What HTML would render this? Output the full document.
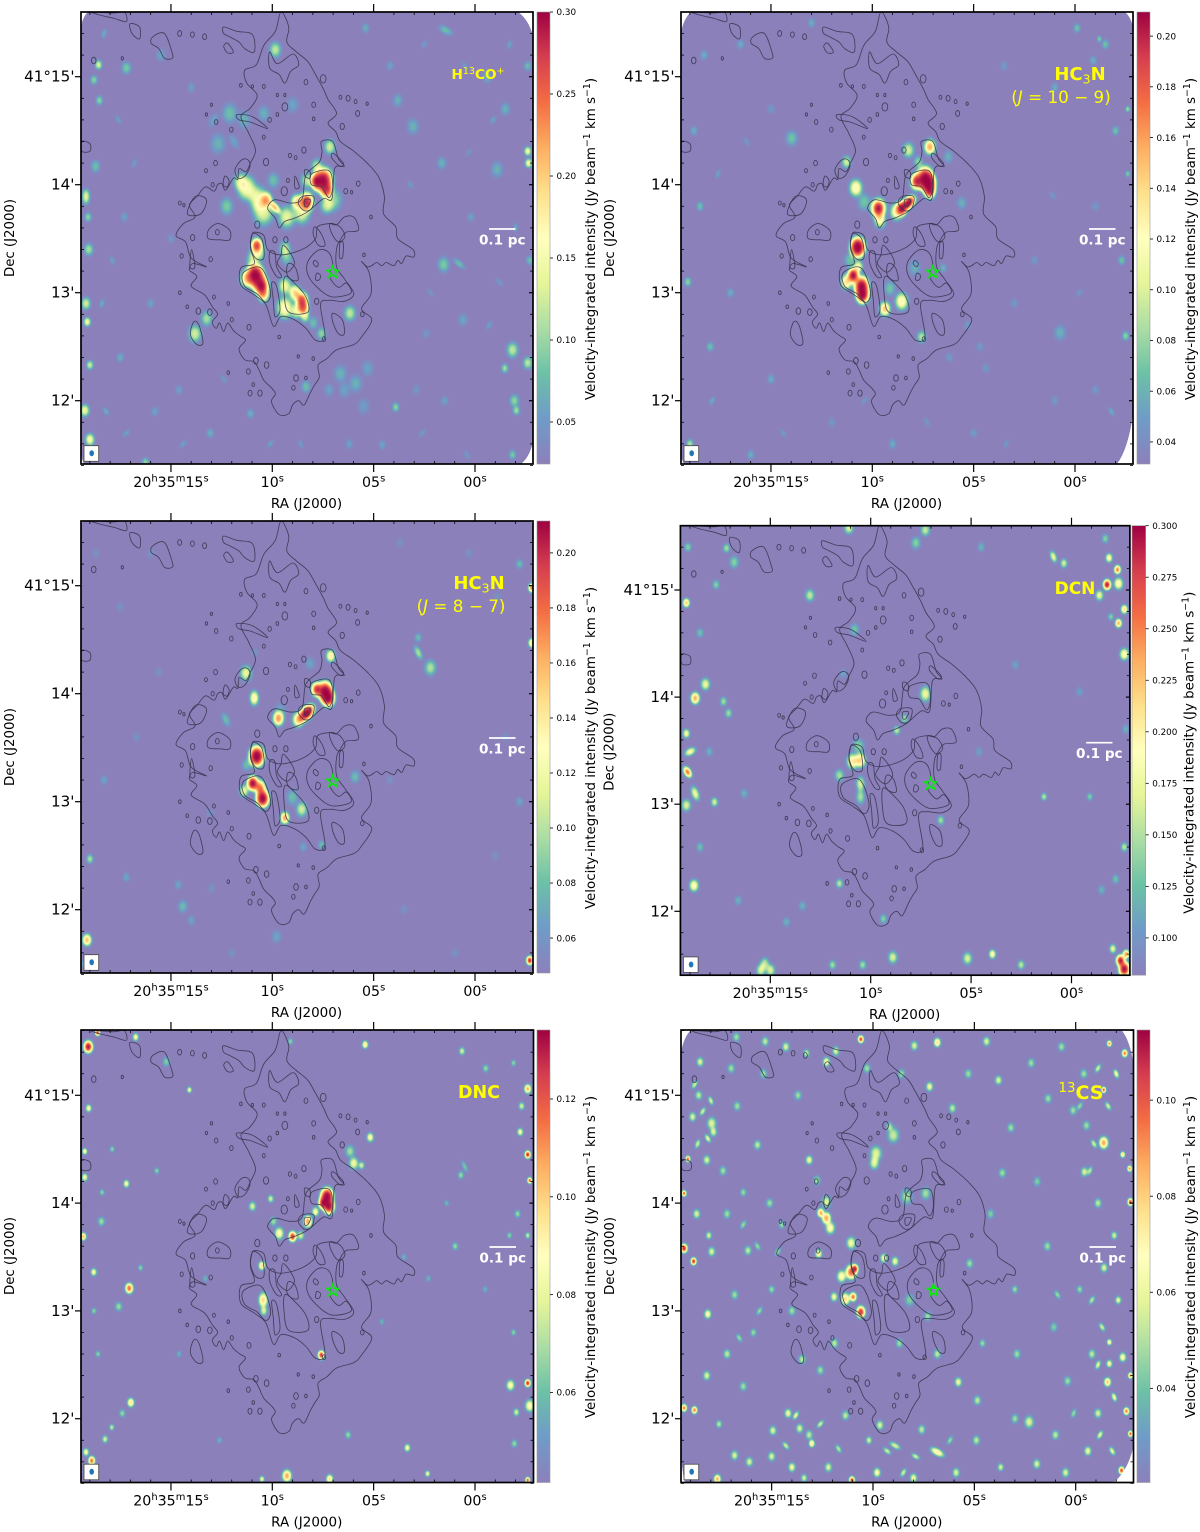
<!DOCTYPE html>
<html lang="en">
<head>
<meta charset="utf-8">
<title>Velocity-integrated intensity maps</title>
<style>
html,body{margin:0;padding:0;background:#fff}
svg{display:block}
text{font-family:"DejaVu Sans","Liberation Sans",sans-serif;fill:#000}
</style>
</head>
<body>
<svg id="figure" xmlns="http://www.w3.org/2000/svg" width="1200" height="1532" viewBox="0 0 1200 1532"><defs id="defs"><radialGradient id="gaussian-profile"><stop offset="0" stop-color="#fff" stop-opacity="1"/><stop offset="0.3" stop-color="#fff" stop-opacity="0.88"/><stop offset="0.55" stop-color="#fff" stop-opacity="0.5"/><stop offset="0.8" stop-color="#fff" stop-opacity="0.13"/><stop offset="1" stop-color="#fff" stop-opacity="0"/></radialGradient></defs></svg>
<script>
// ---- chart data: sky coordinates (RA seconds after 20h35m, Dec arcmin after 41 deg) ----
const colormapStops = ["#8c80bb","#6f9bc8","#6cc1a6","#abdda4","#e6f598","#ffffbf","#fee08b","#fdae61","#f46d43","#d53e4f","#9e0142"];
const raMajorTicks = [15, 10, 5, 0];
const raTickLabels = ["20h35m15s", "10s", "05s", "00s"];
const decMajorTicks = [15, 14, 13, 12];
const decTickLabels = ["41°15'", "14'", "13'", "12'"];

const h13coCbarTicks = [0.05, 0.10, 0.15, 0.20, 0.25, 0.30];
const hc3n109CbarTicks = [0.04, 0.06, 0.08, 0.10, 0.12, 0.14, 0.16, 0.18, 0.20];
const hc3n87CbarTicks = [0.06, 0.08, 0.10, 0.12, 0.14, 0.16, 0.18, 0.20];
const dcnCbarTicks = [0.100, 0.125, 0.150, 0.175, 0.200, 0.225, 0.250, 0.275, 0.300];
const dncCbarTicks = [0.06, 0.08, 0.10, 0.12];
const cs13CbarTicks = [0.04, 0.06, 0.08, 0.10];

// source lists: [ra, dec, intensity, radius arcsec, axis ratio, position angle]
const h13coSources = [
[7.48,14.04,.42,10],[7.32,13.95,.26,7],[7.81,14.03,.3,7],[8.31,13.84,.29,8],[8.8,13.84,.19,5],[10.28,13.86,.2,5],[9.87,13.79,.21,6,.5,-40],
[11.27,13.97,.16,10],[10.69,13.87,.15,10],[10.44,13.75,.14,11],[9.29,13.70,.14,9],[8.55,13.74,.14,9],[6.99,13.86,.1,9],[7.32,13.81,.12,7],
[12.25,13.8,.09,7],[11.6,14.03,.12,7],[9.95,14.04,.08,5],[7.16,14.35,.13,6],[7.81,14.17,.12,6],[8.3,14.04,.12,5],
[10.77,13.44,.26,6],[10.74,13.38,.16,8],[11.02,13.30,.1,6],[10.86,13.17,.4,9],[11.27,13.13,.2,7],[10.53,13.06,.33,8],[10.74,13.12,.25,9],[10.44,12.98,.2,6],
[8.55,12.93,.27,7],[8.47,12.86,.25,5],[8.88,13.0,.2,5],[9.38,13.06,.15,7],[9.38,12.86,.17,9],[8.8,12.83,.15,6],[8.39,12.78,.13,4],[9.38,13.41,.12,6],[9.29,13.33,.09,5],
[6.17,12.81,.12,5],[7.98,12.72,.08,4],[7.57,12.62,.1,4],[13.82,12.62,.13,7],[13.24,12.76,.11,6],
[9.85,15.25,.12,5],[12.1,14.66,.08,8],[12.68,14.38,.07,8],[11.4,14.6,.07,7],[10.42,14.66,.07,6],[9.0,14.74,.06,5],[12.9,14.6,.06,5,.5,30],[11.9,14.4,.06,5,.5,-30],
[6.64,12.25,.07,7],[5.89,12.16,.07,7],[6.45,12.1,.06,6],[3.91,11.94,.1,3],[8.34,12.13,.08,4],[5.3,12.3,.06,5],[7.2,12.1,.06,4],[5.5,11.95,.055,5],
[19.13,12.73,.16,3],[19.19,13.89,.14,5,.5,0],[19.0,12.33,.13,3],[19.25,11.91,.15,4],[19.0,11.64,.16,4],[18.57,15.11,.14,3],[18.53,14.78,.1,3],[17.2,15.08,.09,4],
[19.06,13.4,.11,4],[18.72,14.17,.08,4],[19.09,13.7,.1,3],[19.19,12.9,.13,4],[18.8,14.97,.1,3],
[1.45,15.43,.08,5,.5,-60],[-2.6,14.31,.16,3],[-2.64,14.2,.16,3],[-1.85,12.47,.12,5],[-2.6,12.35,.12,4],[-1.47,12.3,.11,3],[-1.94,12.0,.1,4],[-2.04,11.91,.11,3],
[1.55,13.26,.09,5],[.79,13.27,.08,6,.4,-50],[-1.09,14.14,.07,5],[1.64,14.2,.07,4],[3.06,14.54,.07,5],[3.81,14.78,.07,4],[-1.85,11.5,.09,3],
[16.26,11.43,.1,3],[13.06,11.7,.07,3],[11.08,11.88,.07,3],[4.57,11.59,.06,3],[.6,12.75,.06,4],[2.4,12.62,.05,3],
[15.5,15.2,.06,4],[14,14.9,.06,3],[5.4,15.45,.07,3],[4.2,15.1,.06,3],[-.6,15.0,.07,4],[-1.5,14.7,.07,4],[-2.6,15.1,.08,3],[.2,13.7,.06,3],[-2.7,13.3,.08,3],
[17.5,12.4,.07,3],[16,12.9,.06,3],[15,13.5,.05,3],[17.3,13.7,.06,3],[6.2,11.6,.06,3],[1.5,12.0,.06,3],[2.9,12.1,.05,3],[14.6,12.1,.06,3],[15.8,11.9,.06,3],
[18.3,15.4,.07,3,.5,20],[17.6,14.6,.06,3,.5,-30],[16.8,14.2,.055,3,.5,20],[17.9,13.3,.06,3,.5,-20],[18.4,12.9,.07,3,.5,20],[17.2,11.7,.06,3,.5,40],[18.2,11.9,.07,3,.5,-30],[14.4,11.6,.06,3,.5,40],[12.4,12.2,.055,3,.5,-40],[10.1,11.6,.06,3,.5,40],[8.6,11.6,.055,3,.5,-30],[2.6,11.7,.055,3,.5,40],[.4,11.5,.055,3,.5,-30],[-.7,12.7,.06,3,.5,30],[-1.2,13.1,.055,3,.5,-40],[-2.0,13.6,.07,3,.5,0],[-.9,14.6,.06,3,.5,30],[.5,15.1,.055,3,.5,-40],[2.5,15.3,.055,3,.5,30],[3.2,14.0,.055,3,.5,-30],[.3,14.3,.05,3,.5,40],[2.2,13.0,.05,3,.5,-40],[-1.7,15.3,.065,3,.5,20]
];
const hc3n109Sources = [
[7.4,14.06,.3,9],[7.24,14.01,.3,8],[7.81,14.03,.2,7],[7.16,13.94,.2,5],[8.22,13.83,.3,7,.6,40],[8.55,13.78,.26,6],[8.8,13.75,.13,7],
[9.7,13.78,.22,8],[9.62,13.67,.12,5],[10.81,13.97,.13,7],[11.27,14.21,.1,4],[7.16,14.35,.16,5],[8.22,14.32,.1,5],[7.73,14.21,.08,4],[5.59,13.83,.06,4],[6.25,14.26,.06,4],[13.98,14.43,.07,5],
[10.72,13.42,.36,8],[10.94,13.16,.28,6],[11.27,13.10,.14,5],[10.53,13.06,.3,8],[10.48,12.98,.3,7],[10.69,13.24,.12,4],[11.1,13.3,.07,5],
[9.38,12.85,.15,6],[8.55,12.92,.13,7],[9.13,13.04,.07,6],[7.57,12.59,.09,4],[7.9,13.23,.06,5],[6.5,13.23,.06,3],[10.4,13.84,.07,7],
[.74,12.63,.06,5],[16.5,15.3,.06,3],[15,14.7,.05,3],[13,15.5,.06,3],[3.5,15.1,.05,3],[1,14.9,.06,3],[-1.5,15.3,.07,3],[-2,14.5,.07,3],[-2.6,14.7,.09,2],[-1,13.8,.05,3],
[2,13.3,.05,3],[3,12.9,.05,3],[-2.5,12.6,.08,3],[-1,12.1,.05,3],[1,12,.05,3],[5,11.7,.05,3],[9,11.6,.06,3],[12,11.8,.05,3],[15,12.2,.06,3],[17,13,.06,3],
[18.5,13.8,.07,3],[18.8,14.5,.06,3],[18,12.5,.07,3],[19,11.6,.09,3],[16,11.5,.06,3],[-2.6,14.1,.08,2],[-2.3,13.3,.07,3],[19.1,13.1,.08,3],[18.3,15.2,.06,3],
[-.1,15.45,.07,3],[-.9,15.15,.06,3],[-1.2,15.35,.08,2],[4.4,12.3,.05,3],[6.2,12.4,.05,3],[5.3,12.7,.05,3],[4.7,12.5,.05,3],
[17.6,14.1,.055,3,.5,20],[16.2,14.4,.05,3,.5,-30],[17.9,12.0,.06,3,.5,30],[14.4,11.7,.05,3,.5,-30],[10.4,12.0,.05,3,.5,40],[7.3,11.8,.05,3,.5,-30],[3.4,11.6,.05,3,.5,30],[-1.8,11.9,.06,3,.5,-30],[-.2,13.0,.05,3,.5,30],[1.1,13.9,.05,3,.5,-30]
];
const hc3n87Sources = [
[7.4,14.02,.32,8],[7.24,13.96,.3,7],[7.81,14.04,.2,6],[8.31,13.82,.32,8,.6,40],[8.72,13.76,.15,5],[9.7,13.77,.17,6],[9.62,13.84,.07,5],
[10.89,13.96,.14,6,.6,0],[11.3,14.19,.12,5],[7.12,14.35,.14,4],[2.8,14.38,.1,6,.45,-25],[8.14,14.28,.07,4],[12.29,13.76,.08,6,.5,-25],[5.92,13.23,.08,4],
[10.77,13.42,.34,8],[11.27,13.34,.08,4],[10.97,13.17,.28,6],[11.4,13.1,.12,4],[10.48,13.03,.32,7],[10.61,13.13,.18,5],
[9.38,12.85,.17,4],[8.55,12.93,.11,6],[9.01,13.04,.08,5],[7.57,12.6,.08,3],[8.47,12.58,.07,3],[14.42,12.03,.08,4],[14.64,12.23,.07,3],[9.79,11.75,.07,4],[10.86,14.38,.06,3],[13.08,12.9,.06,3],
[19.14,11.72,.16,4],[19,12.47,.1,3],[-2.7,11.53,.21,3],[-2.2,15.2,.08,3],[-2.8,14.98,.18,3],[-2.8,14.47,.15,3],[2.2,14.24,.1,5],[2.8,14.52,.08,3],
[13,12.2,.06,3],[19.2,11.5,.1,3],[17.2,12.3,.07,3],[14,11.9,.07,3],[12,11.6,.06,3],[3.5,12,.06,3],[1,11.6,.06,3],[-1,12.5,.06,3],[-2.2,13,.07,3],[-1.5,13.6,.06,3],[-1.1,14.9,.06,3],[.3,15.3,.06,3],[3.7,15.4,.06,3],[16,15.3,.06,3],[17.5,14.8,.06,3],[18.7,15.3,.06,3],[15.6,14.2,.06,3],[16.7,13.6,.06,3],[18.3,13.2,.07,3],[4.2,13.2,.06,3]
];
const dcnSources = [
[10.51,13.41,.22,6],[10.9,13.4,.21,5],[10.61,13.54,.14,5],[10.51,13.19,.17,6,.6,0],[10.51,13.07,.15,6,.6,0],[11.56,13.27,.15,4],[7.28,14.03,.18,5,.7,0],[8.32,13.8,.15,3],[8.7,13.69,.16,3],[10.8,14.63,.13,4],[11.37,14.22,.11,3],[4.61,13.49,.11,3],
[-1.77,15.05,.32,3.5],[-2.29,15.19,.26,3],[-2.34,15.06,.2,4],[-1.39,14.95,.18,3.5],[-1.87,15.3,.2,3],[.9,15.31,.18,4,.5,-20],[.38,15.25,.17,3],[-2.63,14.82,.22,3],[-2.34,14.69,.24,3],[-1.96,14.75,.14,2.5],[-2.63,14.4,.2,4],[-1.68,15.48,.14,3],
[-2.63,11.46,.36,5],[-2.44,11.54,.3,4],[-2.06,11.65,.18,3],[-2.72,11.6,.25,3],
[18.74,13.99,.24,4],[18.23,14.12,.18,4],[19.12,13.3,.26,4,.6,-30],[18.99,13.49,.19,4,.6,60],[19.18,13.66,.19,3],[19.18,14.88,.23,3],[18.74,13.1,.18,5,.5,-20],[17.78,13.02,.17,3],[19.18,12.99,.17,4],[18.8,12.24,.2,4],[17.18,15.39,.15,3],[16.8,15.26,.14,4],[13.03,14.95,.16,4],[17.33,13.96,.15,3],[17.08,13.85,.15,3],[18.04,13.49,.12,3],
[15.47,11.45,.17,4],[14.99,11.45,.17,4],[15.28,11.51,.16,4],[8.9,11.57,.17,4],[5.18,11.56,.17,4],[3.94,11.6,.2,3],[2.51,11.5,.16,3],[11.09,15.58,.17,4],[7.28,15.56,.16,4],[7.75,15.44,.14,4],[1.37,13.07,.16,2.5],[-.91,13.07,.14,2.5],[6.51,12.85,.15,3],[-2.63,12.6,.16,3],[11.56,12.26,.16,3],[9.37,11.93,.14,3],
[18.5,14.6,.13,3],[17.7,15.05,.14,3],[19.1,15.4,.14,3],[18.5,12.6,.13,3],[16.3,13.1,.12,3],[13.4,12.05,.12,3],[14.2,11.9,.12,3],[11.9,11.5,.15,3],[10.4,11.5,.15,3],[-1.5,12.2,.12,3],[-.4,14.05,.11,3],[2.8,14.3,.11,3],[4.5,15.4,.12,3],[-2.7,13.7,.12,3],[-2.2,12.3,.13,3],[16.6,12.1,.12,3]
];
const dncSources = [
[7.3,14.06,.2,7],[7.21,13.97,.17,5],[7.49,14.0,.16,4],[7.87,13.92,.09,3],[8.25,13.83,.11,4],[9,13.69,.13,3.5],[9.66,13.72,.09,4],[9.94,13.83,.07,3],[8.6,13.7,.08,3],[10.51,13.42,.1,3],[10.45,13.1,.1,5,.6,0],[10.42,13.0,.08,3],[7.58,12.59,.13,3],[10.98,13.97,.08,3],[10.08,14.04,.08,2.5],
[17.06,13.21,.12,3.5],[17.58,13.04,.07,3],[18.81,13.36,.09,2.5],[18.43,13.83,.07,3],[17.2,14.18,.09,2.5],[19.08,15.45,.15,4],[18.62,15.58,.15,2],[16.74,15.54,.09,2.5],[19.06,14.88,.09,2.5],[5.42,15.47,.1,2.5],[.64,15.41,.08,2.5],
[-2.6,15.06,.11,3],[-2.6,14.45,.15,2.5],[-2.7,14.21,.13,2],[5.98,14.37,.085,4],[5.6,14.35,.08,2.5],[5.17,14.61,.09,3],[6.17,14.48,.07,4],[.51,14.34,.065,4,.35,-25],[.7,14.26,.07,2.5],[19.25,14.48,.1,2],[19.32,13.69,.11,2.5],[19.25,14.24,.09,2.5],
[16.98,12.15,.1,3],[18.91,11.61,.12,3],[19.19,11.69,.09,2.5],[9.28,11.47,.11,4],[7.17,11.44,.1,3],[3.34,11.73,.09,2.5],[2.34,11.49,.09,2],[-2.6,12.33,.14,2.5],[-1.75,12.31,.09,3.5],[-2.7,12.12,.09,4],[-2.04,12.06,.08,2.5],[-2.6,11.43,.13,2],[6.26,11.85,.07,2.5],[-1.94,11.77,.07,2.5],[-2.23,14.66,.09,2.5],[10.51,11.44,.09,2],[.98,13.6,.07,2.5],[-.53,15.25,.07,2.5],[14.09,15.05,.09,2],[15.23,15.31,.065,3],[17.92,11.92,.08,2],[18.25,11.81,.08,2.5],[17.4,12.05,.07,2.5],
[-2.1,13.9,.07,2.5],[-1.7,13.7,.07,2],[-2.6,13.7,.08,2],[-2.3,14.9,.08,2.5],[-1.9,15.3,.07,2],[15.7,14.3,.07,2],[17.9,14.5,.07,2],[18.4,14.1,.07,2],[18.8,13.0,.07,2],[16.5,13.4,.07,2],[14.6,12.6,.06,2],[12.6,11.8,.06,2],[4.6,12.9,.06,2],[3.5,13.5,.06,2],[2.3,13.3,.06,2],[1.4,14.0,.06,2],[-.5,13.2,.06,2],[-1.9,12.8,.07,2],[18.6,12.6,.07,2],[9.1,15.5,.07,2],[13.3,13.3,.06,2]
];
const cs13Sources = [
[11.08,13.36,.1,6],[10.89,13.39,.115,3],[11.55,13.32,.07,4],[10.98,13.13,.1,3],[11.36,13.11,.08,4],[11.92,13.13,.065,3],[10.6,12.99,.11,4],[12.3,13.86,.09,4],[12.58,13.91,.09,3],[12.11,13.77,.07,4],[12.3,14.01,.06,4],[8.34,14.06,.05,5],[7.4,14.09,.05,4],[9.85,14.46,.06,5],[9.94,14.37,.06,4],[9,14.63,.055,5],[9.19,14.71,.05,3],
[10.6,15.52,.11,2.5],[6.83,15.49,.08,3],[11.83,15.41,.06,3],[12.3,15.31,.07,3],[7.96,15.46,.06,3],[13.28,15.39,.06,2.5],[15.32,15.5,.055,3],[16.74,15.54,.05,3],[18.53,15.31,.06,3],[17.96,14.74,.06,4],[17.87,14.66,.06,3],[19.13,14.41,.11,2],[19.32,14.09,.11,2],[19.32,13.58,.115,3],[18.85,13.46,.115,2.5],[18.81,12.08,.1,2.5],[19.32,12.1,.1,2.5],[17.68,11.44,.09,3],[11.04,11.43,.11,2.5],[16.83,11.66,.06,3],[13.02,11.77,.08,2.5],[8.91,11.75,.06,4,.45,-60],[6.83,11.69,.075,5,.45,-60],[1.92,11.58,.06,3],[-2.26,11.52,.11,2.5],[-2.7,11.86,.11,2],[-1.57,12.34,.085,3],[-2.5,12.07,.1,2.5],[-2.7,12.4,.1,2],[-2.32,12.57,.07,3],[-1.66,12.71,.08,2],[-1.66,12.51,.07,2.5],[-1.38,14.56,.09,4],[-2.7,14.01,.11,2.5],[-2.66,14.32,.1,2],[-2.32,14.45,.085,2],[-2.42,15.39,.1,2.5],[-1.38,15.05,.11,2],[-.53,14.72,.05,3],[-1.66,15.48,.1,2],[-.43,14.29,.06,3],
[2.3,11.97,.06,4],[14.19,12.05,.065,3],[13.62,11.91,.06,3],[14.94,11.89,.06,3],[13.15,11.85,.055,3],[11.36,12.03,.055,3],[9.66,11.94,.06,3],[18.15,12.97,.07,3],[16.83,13.15,.05,3],[17.96,13.55,.06,3],[16.17,13.56,.055,3],[15.7,14.54,.055,3],[13.15,14.4,.065,3],[12.77,14.21,.05,3],[12.68,13.53,.07,3],[11.08,13.63,.065,4],[9.47,13.49,.065,3],[8.91,13.46,.065,3],[5.23,13.44,.05,3],[5.79,12.34,.065,3],[6.83,12.6,.055,3],[4.85,12.17,.055,3],[3.81,15.14,.06,3],[7.21,15.08,.065,3],[6.08,14.88,.055,3],[.13,14.86,.05,3],[1.36,14.97,.05,3],[3.62,14.28,.05,3],[1.08,12.85,.045,3],
[18.6,15.0,.055,3],[18.2,14.4,.06,3],[18.9,14.8,.06,3],[17.4,14.3,.05,3],[16.7,14.9,.05,3],[15.4,15.2,.05,3],[14.3,15.45,.06,3],[13.7,15.0,.05,3],[17.0,15.25,.05,3],[18.7,13.9,.06,3],[18.1,13.7,.06,2.5],[17.2,13.9,.05,3],[16.4,14.1,.05,2.5],[15.1,14.0,.05,3],[14.5,13.8,.05,2.5],[15.0,13.2,.05,2.5],[14.0,13.0,.05,3],[15.9,12.8,.05,2.5],[17.2,12.6,.055,3],[18.2,12.4,.06,3],[16.4,12.3,.05,3],[17.6,11.95,.055,2.5],[16.1,11.6,.06,3],[15,11.65,.06,3],[14,11.55,.065,3],[13.4,11.45,.06,2.5],[12.2,11.55,.06,3],[10.2,11.8,.06,2.5],[9.8,11.5,.07,3],[8,11.45,.065,3],[7.6,11.9,.055,3],[5.9,11.5,.06,3],[4.9,11.8,.055,3],[3.7,11.55,.06,2.5],[3,12,.05,3],[1,11.85,.055,3],[.5,11.5,.06,3],[-.6,11.7,.065,3],[-1.1,12.05,.06,3],[-.8,12.6,.055,3],[-.2,13.2,.05,2.5],[-1.4,13.4,.06,3],[-2.1,13.1,.065,2.5],[-1.9,13.7,.06,2.5],[-1.1,14.0,.055,3],[-.4,15.2,.05,3],[.7,15.45,.05,3],[2.2,15.3,.05,3],[4.4,15.5,.06,3],[5.3,15.2,.05,3],[3.2,14.7,.05,3],[1.9,14.2,.045,3],[4.2,13.9,.045,3],[3,13.2,.05,2.5],[1.4,13.6,.05,3],[4.6,12.7,.05,2.5],[2.9,12.6,.05,3],[.4,12.35,.05,3],[8.7,12.7,.05,3],[11.9,12.7,.055,3],[12.6,12.45,.05,3],[13.5,12.55,.055,3],[8.2,13.1,.045,4],[7.3,12.95,.05,3],[10.3,15.25,.05,3],[8.6,15.2,.05,3],
[13.81,12.03,.065,3,.5,30],[14.3,11.75,.06,3,.5,-40],[12.6,11.95,.06,3,.5,40],[11.7,11.72,.055,3,.5,-30],[9.3,11.7,.06,3,.5,-50],[7.9,11.65,.06,3,.5,-60],[8.5,11.5,.06,3,.5,30],[6.2,11.8,.05,3,.5,30],[-1.1,12.5,.065,3,.5,20],[-1.3,12.85,.06,3,.5,-30],[-.8,13.1,.055,3,.5,30],[-1.9,12.2,.07,3,.5,-20],[-1.2,11.85,.065,3,.5,30],[-1.8,11.7,.065,3,.5,-30],[.1,12.05,.05,3,.5,20],[.9,13.15,.05,3,.5,-30],
[18.4,14.85,.06,3,.5,30],[18.15,14.6,.065,3,.5,-30],[18.65,14.55,.06,3,.5,20],[18.0,14.95,.06,3,.5,-20],[18.8,15.1,.06,3,.5,30],[16.4,13.8,.05,3,.5,30],[15.7,13.6,.05,3,.5,-30],[14.7,13.55,.05,3,.5,30],[16.6,12.75,.05,3,.5,-30],[15.6,13.0,.05,3,.5,30],[-.9,14.55,.06,3,.5,-30],[-.7,14.3,.055,3,.5,20],[-1.6,14.9,.06,3,.5,-30],[-1.1,15.25,.06,3,.5,30],[-2.0,15.2,.07,3,.5,-20],[-.2,14.9,.05,3,.5,30]
];

// molecular-gas contour loops as flat [ra, dec, ra, dec ...] sequences
const contourOuter = [9.57,15.60,9.19,15.46,9.28,15.32,8.81,15.23,8.25,15.14,7.87,15.02,7.49,14.89,7.25,14.79,6.83,14.66,7.25,14.57,6.87,14.49,6.64,14.40,5.98,14.31,5.32,14.20,4.75,14.07,4.47,13.89,4.51,13.73,3.91,13.61,3.81,13.50,3.06,13.40,3.02,13.33,3.4,13.34,3.62,13.27,3.81,13.3,4.0,13.25,4.38,13.28,4.6,13.25,4.85,13.28,5.1,13.25,5.32,13.24,5.60,13.29,5.23,13.19,5.13,12.99,5.60,12.85,5.09,12.75,5.60,12.59,5.98,12.52,6.83,12.47,7.30,12.39,7.74,12.33,7.68,12.22,7.9,12.15,8.11,12.08,8.43,11.96,8.7,12.0,9.0,11.96,9.19,11.88,9.66,11.87,10.04,11.99,9.85,12.06,10.0,12.11,10.42,12.19,10.64,12.28,10.9,12.36,11.36,12.38,11.64,12.48,11.32,12.56,11.6,12.6,11.92,12.65,12.2,12.72,12.40,12.64,12.6,12.72,12.77,12.67,12.96,12.73,12.7,12.8,12.96,12.87,13.34,12.98,14.0,13.06,13.72,13.15,14.09,13.21,13.91,13.27,13.25,13.24,14.0,13.32,14.28,13.47,14.75,13.53,14.38,13.64,13.81,13.70,14.09,13.81,13.72,13.89,13.3,13.98,12.87,13.94,12.7,14.0,12.49,14.01,12.3,13.95,11.92,14.06,11.7,14.05,11.64,14.15,11.3,14.12,11.08,14.2,10.83,14.32,11.17,14.48,11.55,14.63,11.08,14.71,10.75,14.83,11.26,14.94,11.36,15.06,10.79,15.11,10.42,15.29,9.85,15.42];
const contourRing = [7.58,14.40,7.02,14.40,6.74,14.24,6.45,14.17,6.92,14.15,7.06,13.87,7.49,13.87,8.25,13.75,8.91,13.69,9.38,13.66,9.66,13.60,9.85,13.69,10.23,13.78,9.89,13.86,9.09,13.83,8.53,13.87,8.34,14.09,7.68,14.21,7.55,14.31];
const contourSouth = [10.89,13.56,10.42,13.53,10.23,13.40,9.57,13.35,8.53,13.40,7.87,13.50,7.77,13.61,7.21,13.64,6.83,13.63,6.45,13.70,5.98,13.70,5.75,13.58,6.36,13.56,6.64,13.49,6.83,13.41,6.83,13.24,6.45,13.13,5.98,12.99,6.45,12.92,7.21,12.93,7.62,12.89,7.40,12.59,7.87,12.56,8.34,12.67,8.91,12.75,9.57,12.78,9.94,12.69,10.32,12.89,10.89,12.98,11.55,13.07,11.55,13.23,10.89,13.27,11.08,13.41,11.02,13.52];
const contourStarRing = [7.77,13.39,7.25,13.38,7.02,13.27,7.17,13.15,6.74,13.05,6.36,13.09,6.11,13.0,6.83,12.96,7.40,12.99,8.15,13.13,8.28,13.27];
const contourClumpE = [10.70,13.24,10.32,13.16,10.08,12.99,10.32,12.91,10.75,12.99,11.36,13.06,11.45,13.18];
const contourClumpD = [10.94,13.55,10.51,13.49,10.42,13.32,10.83,13.32,11.08,13.44];
const contourClumpF = [9.38,13.15,8.91,13.09,8.34,12.96,8.25,12.82,9.19,12.82,9.42,12.99];
const contourFilamentG = [9.47,13.44,9.09,13.36,8.91,13.27,9.28,13.19,9.75,13.27,9.57,13.35];
const contourFilamentH = [7.02,12.81,6.55,12.75,6.45,12.62,6.74,12.62,7.02,12.73];
const contourLeftClump = [13.15,13.58,12.68,13.64,12.11,13.58,12.11,13.49,12.58,13.49,13.15,13.50];
const contourSouthWest = [13.91,12.72,14.04,12.61,13.72,12.52,13.43,12.53,13.53,12.65,13.72,12.73];
const contourCoreNE = [8.06,14.10,7.21,14.13,7.02,13.98,7.21,13.88,7.58,13.98,8.06,14.0];
const contourCoreMid = [8.53,13.89,7.96,13.89,8.06,13.78,8.43,13.76,8.72,13.83];
const contourCoreInner = [8.40,13.86,8.11,13.86,8.25,13.80,8.40,13.80];
const contourNorthL = [10.13,15.23,9.75,15.12,8.98,15.21,8.70,15.11,9.09,15.05,9.38,14.94,9.66,15.02,10.13,15.08];
const contourNorthM = [12.4,15.46,11.74,15.42,10.98,15.39,10.89,15.23,11.36,15.26,11.64,15.32,12.11,15.37,12.4,15.40];
const contourNorthN = [12.21,15.31,11.92,15.23,12.21,15.22,12.4,15.28];
const contourNorthO = [15.89,15.37,15.32,15.40,14.94,15.22,14.94,15.17,15.32,15.17,15.60,15.26,15.98,15.31];
const contourNorthP = [17.02,15.49,16.55,15.46,16.55,15.35,16.92,15.40];
const contourEdgeQ = [18.9,15.6,17.8,15.59,17.3,15.6,17.2,15.51,17.8,15.54,18.5,15.57];
const contourEdgeR = [19.4,14.4,19.0,14.38,19.0,14.31,19.4,14.31];
const contourWestS = [13.81,13.89,13.25,13.86,13.53,13.73,14.19,13.73];
const contourArmT = [11.74,14.65,10.98,14.63,10.23,14.52,11.08,14.58,11.64,14.6];
const contourFilament1 = [10.12,13.38,9.87,13.37,9.79,13.24,9.54,13.15,9.79,13.15,10.12,13.27];
const contourFilament2 = [9.21,13.27,8.88,13.24,8.72,13.12,9.05,13.12,9.29,13.18];
const contourFilament3 = [10.03,13.09,9.79,13.06,9.62,12.84,9.87,12.78,9.95,12.93];
const contourFilament4 = [7.9,13.61,7.57,13.54,7.4,13.44,7.73,13.44,7.98,13.54];
const contourFilament5 = [7.16,13.64,6.66,13.61,6.42,13.52,6.74,13.47,7.07,13.55];
const contourFilament6 = [6.66,13.46,6.5,13.46,6.53,13.33,6.69,13.33];
const contourFilament7 = [7.9,13.3,7.73,13.27,7.81,13.24,7.98,13.27];
const contourFilament8 = [7.81,13.18,7.62,13.16,7.68,13.12,7.86,13.12];
const contourFilament9 = [13.98,13.4,13.82,13.24,14.06,13.24];
const contourArmLobe1 = [12.34,14.08,12.13,14.04,12.22,13.98,12.42,14.0];
const contourArmLobe2 = [11.84,14.14,11.51,14.23,11.2,14.23,11.1,14.17,11.35,14.08,11.68,14.06];
const contourRingLobe1 = [8.39,14.14,8.14,14.12,8.14,14.06,8.39,14.08];
const contourRingLobe2 = [8.88,14.08,8.67,13.98,8.88,13.97];
const contourRingLobe3 = [6.99,14.29,6.5,14.2,6.66,14.17,7.07,14.25];
const contourLoops = [contourOuter,contourRing,contourSouth,contourStarRing,contourClumpE,contourClumpD,contourClumpF,contourFilamentG,contourFilamentH,contourLeftClump,contourSouthWest,contourCoreNE,contourCoreMid,contourCoreInner,contourNorthL,contourNorthM,contourNorthN,contourNorthO,contourNorthP,contourEdgeQ,contourEdgeR,contourWestS,contourArmT,contourFilament1,contourFilament2,contourFilament3,contourFilament4,contourFilament5,contourFilament6,contourFilament7,contourFilament8,contourFilament9,contourArmLobe1,contourArmLobe2,contourRingLobe1,contourRingLobe2,contourRingLobe3];

// small closed contours: [ra, dec, radius arcsec]
const contourIslands = [
[9.13,14.27,1.1],[8.85,14.25,1],[8.44,14.32,1.5],[12.8,14.2,1.3],[13.27,14.13,1],[12.94,14.0,1.1],[10.31,14.21,1.8],[9.23,14.04,1],[9.41,13.94,2.2],[5.76,14.01,1.3],[6.38,13.94,1.3],[6.09,13.93,.8],[5.13,13.7,.9],[10.74,13.63,1.8],[9.87,13.49,1.5],[9.33,13.49,1.5],[12.71,13.56,1.3],[13.93,13.51,1.5],[13.04,13.31,1.2],[14.47,13.34,1.1],[14.56,13.83,1],[14.36,13.81,.8],[12.88,12.96,1],[14.56,13.0,.9],[14.2,12.87,.9],[13.65,12.83,1.6],[13.08,12.82,1.6],[12.17,12.9,.9],[12.0,12.75,1.1],[11.15,12.68,1.4],[9.66,12.59,.9],[7.45,12.57,1.2],[8.72,12.41,.8],[7.98,12.39,.9],[8.83,12.21,1.6],[8.34,12.21,.9],[10.28,12.33,1.6],[10.81,12.37,1.6],[11.18,12.27,1.3],[12.17,12.26,.9],[10.94,12.15,.9],[11.1,12.07,1.4],[10.61,12.07,1.5],[8.96,12.12,1.2],[5.48,13.35,.9],[7.81,12.92,1.5],[5.56,12.8,1.2],
[14.57,15.4,1.4],[13.94,15.39,1.3],[13.34,15.37,1.4],[18.81,15.15,1.6],[17.4,15.17,.8],[11.55,14.92,.9],[10.98,14.91,.8],[10.42,14.91,1],[9.75,14.83,.8],[9.38,14.83,.8],[8.34,14.95,1.3],[7.49,14.98,2],[6.64,14.81,1],[6.26,14.8,1.4],[5.89,14.77,1],[5.32,14.75,.8],[5.79,14.66,1.4],[7.96,14.74,1.3],[9.38,14.72,2],[9.75,14.65,.9],[10.13,14.6,1.2],[10.42,14.44,1],[12.02,14.51,1.2],[12.77,14.58,1.2],[13.25,14.65,.8],[13.0,14.74,.8],[7.96,14.61,.9],[6.55,14.54,1.5]
];
const starPosition = [7.02, 13.19];

const panelSpecs = [
 {key:'h13co',left:81,top:12,size:452,cbarLeft:537,cbarWidth:13,ra0:394,raScale:20.27,dec15:64.7,decScale:108,vmin:.0244,vmax:.30,sources:h13coSources,ticks:h13coCbarTicks,fmt:2,
  cuts:[[7,14],[15,24],[12,22],[3,12]],labelGap:45},
 {key:'hc3n-10-9',left:681,top:12,size:452,cbarLeft:1137,cbarWidth:13,ra0:394,raScale:20.27,dec15:64.7,decScale:108,vmin:.0313,vmax:.2095,sources:hc3n109Sources,ticks:hc3n109CbarTicks,fmt:2,
  cuts:[[10,20],[8,15],[16,50],[3,10]],labelGap:45},
 {key:'hc3n-8-7',left:81,top:521,size:452,cbarLeft:537,cbarWidth:13,ra0:394,raScale:20.27,dec15:64.7,decScale:108,vmin:.0473,vmax:.2116,sources:hc3n87Sources,ticks:hc3n87CbarTicks,fmt:2,
  cuts:[[3,3],[3,3],[3,3],[2,3]],labelGap:45},
 {key:'dcn',left:680.4,top:525.7,size:449.5,cbarLeft:1132,cbarWidth:13.7,ra0:391.1,raScale:20.08,dec15:64.3,decScale:107.1,vmin:.0819,vmax:.30,sources:dcnSources,ticks:dcnCbarTicks,fmt:3,
  cuts:[[0,0],[0,0],[0,0],[0,0]],labelGap:48},
 {key:'dnc',left:81,top:1030,size:452.5,cbarLeft:537,cbarWidth:13,ra0:394,raScale:20.27,dec15:65.3,decScale:107.8,vmin:.0416,vmax:.1341,sources:dncSources,ticks:dncCbarTicks,fmt:2,
  cuts:[[0,0],[2,4],[0,0],[0,0]],labelGap:45},
 {key:'13cs',left:681,top:1030,size:452.5,cbarLeft:1137,cbarWidth:13,ra0:394.7,raScale:20.27,dec15:65.3,decScale:107.8,vmin:.0204,vmax:.1146,sources:cs13Sources,ticks:cs13CbarTicks,fmt:2,
  cuts:[[10,22],[12,34],[20,36],[4,30]],labelGap:45}
];

// ---- rendering ----
const NS = 'http://www.w3.org/2000/svg';
const figure = document.getElementById('figure');
const defs = document.getElementById('defs');
function make(tag, attrs, parent){
  const e = document.createElementNS(NS, tag);
  for (const k in attrs) e.setAttribute(k, attrs[k]);
  if (parent) parent.appendChild(e);
  return e;
}
function channel(hex, i){ return (parseInt(hex.substr(1 + 2*i, 2), 16) / 255).toFixed(3); }
function smoothClosed(pts){
  const n = pts.length;
  let d = 'M' + pts[0][0].toFixed(1) + ',' + pts[0][1].toFixed(1);
  for (let i = 0; i < n; i++){
    const p0 = pts[(i-1+n)%n], p1 = pts[i], p2 = pts[(i+1)%n], p3 = pts[(i+2)%n];
    d += 'C' + (p1[0]+(p2[0]-p0[0])/6).toFixed(1) + ',' + (p1[1]+(p2[1]-p0[1])/6).toFixed(1) + ' ' +
         (p2[0]-(p3[0]-p1[0])/6).toFixed(1) + ',' + (p2[1]-(p3[1]-p1[1])/6).toFixed(1) + ' ' +
         p2[0].toFixed(1) + ',' + p2[1].toFixed(1);
  }
  return d + 'Z';
}
function mathLabel(parent, x, y, size, weight, fill, parts, anchor){
  const t = make('text', {x:x, y:y, 'font-size':size, 'font-weight':weight, 'text-anchor':anchor || 'middle'}, parent);
  t.style.fill = fill;
  parts.forEach(function(p){
    const s = make('tspan', {}, t);
    s.textContent = p.t;
    let dy = 0;
    if (p.sup) dy = -size*0.38;
    if (p.sub) dy = size*0.2;
    if (dy) s.setAttribute('dy', dy);
    if (p.sup || p.sub) s.setAttribute('font-size', size*0.7);
    if (p.plain) s.setAttribute('font-weight', 'normal');
    if (p.italic) s.setAttribute('font-style', 'italic');
    if (dy){
      const back = make('tspan', {dy:-dy, 'font-size':size}, t);
      back.textContent = '\u200b';
    }
  });
  return t;
}

// colourbar gradient shared by all panels
const cbarGrad = make('linearGradient', {id:'cbar-gradient', x1:0, y1:1, x2:0, y2:0}, defs);
colormapStops.forEach(function(c, i){
  make('stop', {offset:i/(colormapStops.length-1), 'stop-color':c}, cbarGrad);
});

const tableR = colormapStops.map(function(c){return channel(c,0);}).join(' ');
const tableG = colormapStops.map(function(c){return channel(c,1);}).join(' ');
const tableB = colormapStops.map(function(c){return channel(c,2);}).join(' ');

panelSpecs.forEach(function(p, idx){
  const L = p.left, T = p.top, S = p.size, R = L + S, B = T + S;
  const xOf = function(ra){ return L + p.ra0 - ra * p.raScale; };
  const yOf = function(dec){ return T + p.dec15 + (15 - dec) * p.decScale; };
  const arcsec = p.decScale / 60;

  const group = make('g', {}, figure);
  
  

  const clip = make('clipPath', {id:'clip-' + idx}, defs);
  make('rect', {x:L, y:T, width:S, height:S}, clip);
  const filter = make('filter', {id:'heat-' + idx, filterUnits:'userSpaceOnUse', x:L, y:T, width:S, height:S, 'color-interpolation-filters':'sRGB'}, defs);
  make('feGaussianBlur', {stdDeviation:0.8}, filter);
  make('feColorMatrix', {type:'matrix', values:'0 0 0 1 0 0 0 0 1 0 0 0 0 1 0 0 0 0 0 1'}, filter);
  const transfer = make('feComponentTransfer', {}, filter);
  make('feFuncR', {type:'table', tableValues:tableR}, transfer);
  make('feFuncG', {type:'table', tableValues:tableG}, transfer);
  make('feFuncB', {type:'table', tableValues:tableB}, transfer);

  const clipped = make('g', {'clip-path':'url(#clip-' + idx + ')'}, group);
  const heat = make('g', {filter:'url(#heat-' + idx + ')'}, clipped);
  
  

  p.sources.forEach(function(src){
    const t = (src[2] - p.vmin) / (p.vmax - p.vmin);
    const cx = xOf(src[0]), cy = yOf(src[1]);
    const ry = src[3] * arcsec * (src[3] <= 5 ? 1.25 : 1);
    const ratio = src[4] === undefined ? 0.75 : src[4];
    const angle = src[5] === undefined ? 0 : src[5];
    const levels = t > 1 ? [1, Math.min(1, t - 1)] : [Math.max(0, t)];
    levels.forEach(function(level){
      const blob = make('ellipse', {cx:cx, cy:cy, rx:ry*ratio, ry:ry, fill:'url(#gaussian-profile)', opacity:level, transform:'rotate(' + angle + ' ' + cx + ' ' + cy + ')'}, heat);
      
      
    });
  });

  // unobserved footprint corners
  const c = p.cuts;
  let cutPath = '';
  if (c[0][0]) cutPath += 'M'+L+','+T+'L'+(L+c[0][0])+','+T+'Q'+(L+c[0][0]*.3)+','+(T+c[0][1]*.3)+' '+L+','+(T+c[0][1])+'Z';
  if (c[1][0]) cutPath += 'M'+R+','+T+'L'+(R-c[1][0])+','+T+'Q'+(R-c[1][0]*.3)+','+(T+c[1][1]*.3)+' '+R+','+(T+c[1][1])+'Z';
  if (c[2][0]) cutPath += 'M'+R+','+B+'L'+(R-c[2][0])+','+B+'Q'+(R-c[2][0]*.3)+','+(B-c[2][1]*.3)+' '+R+','+(B-c[2][1])+'Z';
  if (c[3][0]) cutPath += 'M'+L+','+B+'L'+(L+c[3][0])+','+B+'Q'+(L+c[3][0]*.3)+','+(B-c[3][1]*.3)+' '+L+','+(B-c[3][1])+'Z';
  if (cutPath){
    const cuts = make('path', {d:cutPath, fill:'#fff'}, clipped);
    
    
  }

  // contours
  const contourGroup = make('g', {fill:'none', stroke:'#35324a', 'stroke-width':0.85, 'stroke-opacity':0.85}, clipped);
  
  
  contourLoops.forEach(function(loop){
    const pts = [];
    for (let i = 0; i < loop.length; i += 2) pts.push([xOf(loop[i]), yOf(loop[i+1])]);
    const line = make('path', {d:smoothClosed(pts)}, contourGroup);
    
    
  });
  contourIslands.forEach(function(isl){
    const ring = make('ellipse', {cx:xOf(isl[0]), cy:yOf(isl[1]), rx:isl[2]*arcsec*0.8, ry:isl[2]*arcsec*1.15}, contourGroup);
    
    
  });

  // beam box
  const beamBox = make('rect', {x:L+3, y:B-18.3, width:14.7, height:15.6, fill:'#fff', stroke:'#444', 'stroke-width':0.8}, clipped);
  
  
  const beam = make('ellipse', {cx:L+10.7, cy:B-10.7, rx:2.3, ry:3, fill:'#1f77b4'}, clipped);
  
  

  // star marker
  const sx = xOf(starPosition[0]), sy = yOf(starPosition[1]);
  let starPts = '';
  for (let i = 0; i < 10; i++){
    const r = i % 2 ? 2.6 : 6.2;
    const a = -Math.PI/2 + i * Math.PI/5;
    starPts += (sx + r*Math.cos(a)).toFixed(1) + ',' + (sy + r*Math.sin(a)).toFixed(1) + ' ';
  }
  const star = make('polygon', {points:starPts, fill:'none', stroke:'#00f000', 'stroke-width':1.5}, clipped);
  
  

  // scale bar
  const barX1 = L + S*0.9027, barX2 = L + S*0.9613, barY = T + 217;
  const bar = make('line', {x1:barX1, x2:barX2, y1:barY, y2:barY, stroke:'#fff', 'stroke-width':1.7}, group);
  
  
  const barText = make('text', {x:(barX1+barX2)/2, y:barY+15.5, 'font-size':13.6, 'font-weight':'bold', 'text-anchor':'middle'}, group);
  barText.style.fill = '#fff';
  barText.textContent = '0.1 pc';
  
  

  // frame
  const frame = make('rect', {x:L, y:T, width:S, height:S, fill:'none', stroke:'#000', 'stroke-width':1.7}, group);
  
  

  // ticks
  const tickGroup = make('g', {stroke:'#000'}, group);
  
  
  raMajorTicks.forEach(function(ra, i){
    const x = xOf(ra);
    make('line', {x1:x, x2:x, y1:T-8, y2:T, 'stroke-width':1.2}, tickGroup);
    make('line', {x1:x, x2:x, y1:B, y2:B+8, 'stroke-width':1.2}, tickGroup);
    const m = raTickLabels[i].match(/^(?:(\d+)h(\d+)m)?(\d+)s$/);
    const parts = [];
    if (m[1]) parts.push({t:m[1]},{t:'h',sup:true},{t:m[2]},{t:'m',sup:true});
    parts.push({t:m[3]},{t:'s',sup:true});
    const lab = mathLabel(group, x, B+23, 14.2, 'normal', '#000', parts);
    
    
  });
  for (let ra = -2; ra <= 19; ra++){
    if (ra % 5 === 0) continue;
    const x = xOf(ra);
    make('line', {x1:x, x2:x, y1:T, y2:T+3, 'stroke-width':.8}, tickGroup);
    make('line', {x1:x, x2:x, y1:B-3, y2:B, 'stroke-width':.8}, tickGroup);
  }
  decMajorTicks.forEach(function(dec, i){
    const y = yOf(dec);
    make('line', {x1:L-6, x2:L, y1:y, y2:y, 'stroke-width':1.2}, tickGroup);
    make('line', {x1:R-4, x2:R, y1:y, y2:y, 'stroke-width':1.2}, tickGroup);
    const lab = make('text', {x:L-6.5, y:y+5, 'font-size':15.2, 'text-anchor':'end'}, group);
    lab.textContent = decTickLabels[i];
    
    
  });
  for (let k = 57; k <= 79; k++){
    const dec = k / 5;
    if (k % 5 === 0 || dec < 11.4 || dec > 15.6) continue;
    const y = yOf(dec);
    make('line', {x1:L, x2:L+3, y1:y, y2:y, 'stroke-width':.8}, tickGroup);
    make('line', {x1:R-3, x2:R, y1:y, y2:y, 'stroke-width':.8}, tickGroup);
  }

  // axis titles
  const xTitle = make('text', {x:L+S/2-0.5, y:B+44, 'font-size':13.5, 'text-anchor':'middle'}, group);
  xTitle.textContent = 'RA (J2000)';
  
  
  const yTitle = make('text', {x:0, y:0, 'font-size':13.3, 'text-anchor':'middle', transform:'translate(' + (L-67) + ' ' + (T+226) + ') rotate(-90)'}, group);
  yTitle.textContent = 'Dec (J2000)';
  
  

  // colourbar
  const cbar = make('rect', {x:p.cbarLeft, y:T, width:p.cbarWidth, height:S, fill:'url(#cbar-gradient)', stroke:'#999', 'stroke-width':.6}, group);
  
  
  const cbarRight = p.cbarLeft + p.cbarWidth;
  p.ticks.forEach(function(v){
    const y = T + (p.vmax - v) / (p.vmax - p.vmin) * S;
    const tick = make('line', {x1:cbarRight, x2:cbarRight+3, y1:y, y2:y, stroke:'#000', 'stroke-width':.8}, group);
    
    
    const lab = make('text', {x:cbarRight+6.5, y:y+3.2, 'font-size':8.8}, group);
    lab.textContent = v.toFixed(p.fmt);
    
    
  });
  const cbarTitle = make('g', {transform:'translate(' + (cbarRight + p.labelGap) + ' ' + (T+227) + ') rotate(-90)'}, group);
  
  
  mathLabel(cbarTitle, 0, 0, 13.4, 'normal', '#000', [
    {t:'Velocity-integrated intensity (Jy beam'},{t:'\u22121',sup:true},{t:' km s'},{t:'\u22121',sup:true},{t:')'}
  ]);
});

// species labels
const yellow = '#ffff00';
function species(name, x, y, size, parts){
  const t = mathLabel(figure, x, y, size, 'bold', yellow, parts);
  
  
}
species('species-label-h13co', 478, 79, 13.6, [{t:'H'},{t:'13',sup:true,plain:true},{t:'CO'},{t:'+',sup:true,plain:true}]);
species('species-label-hc3n-10-9', 1080, 80, 18, [{t:'HC'},{t:'3',sub:true,plain:true},{t:'N'}]);
species('transition-label-10-9', 1061, 103, 16.8, [{t:'(',plain:true},{t:'J',plain:true,italic:true},{t:' = 10 \u2212 9)',plain:true}]);
species('species-label-hc3n-8-7', 479, 589, 18, [{t:'HC'},{t:'3',sub:true,plain:true},{t:'N'}]);
species('transition-label-8-7', 461, 612, 16.8, [{t:'(',plain:true},{t:'J',plain:true,italic:true},{t:' = 8 \u2212 7)',plain:true}]);
species('species-label-dcn', 1075, 594, 17, [{t:'DCN'}]);
species('species-label-dnc', 479, 1098, 17.5, [{t:'DNC'}]);
species('species-label-13cs', 1081, 1099, 19, [{t:'13',sup:true,plain:true},{t:'CS'}]);
</script>
</body>
</html>
